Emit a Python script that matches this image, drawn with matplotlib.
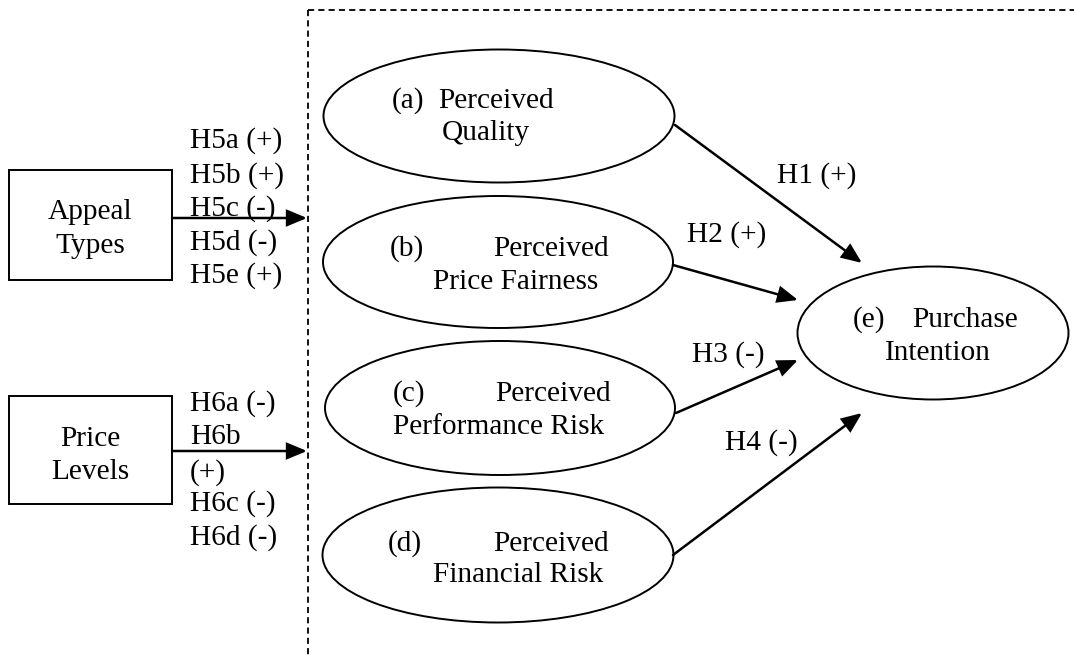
import matplotlib
matplotlib.use("Agg")
import matplotlib.pyplot as plt
from matplotlib.patches import Ellipse, Rectangle, FancyArrowPatch

# ---- content ----
box_labels = ["Appeal\nTypes", "Price\nLevels"]
h5_labels = ["H5a (+)", "H5b (+)", "H5c (-)", "H5d (-)", "H5e (+)"]
h6_labels = ["H6a (-)", "H6b", "(+)", "H6c (-)", "H6d (-)"]
construct_tags = ["(a)", "(b)", "(c)", "(d)", "(e)"]
construct_line1 = ["Perceived", "Perceived", "Perceived", "Perceived", "Purchase"]
construct_line2 = ["Quality", "Price Fairness", "Performance Risk", "Financial Risk", "Intention"]
path_labels = ["H1 (+)", "H2 (+)", "H3 (-)", "H4 (-)"]

plt.rcParams['font.family'] = ['Liberation Serif', 'DejaVu Serif']
FS = 21.2

W, H = 1074, 657
fig = plt.figure(figsize=(W / 100, H / 100), dpi=100)
ax = fig.add_axes([0, 0, 1, 1])
ax.set_xlim(0, W)
ax.set_ylim(H, 0)
ax.axis('off')

LW_ARROW = 1.8
LW_SHAPE = 1.4
# dashed frame
ax.plot([308, 308], [10, H], color='black', lw=1.3, linestyle=(0, (3.4, 2.3)))
ax.plot([308, W], [10, 10], color='black', lw=1.3, linestyle=(0, (3.4, 2.3)))

def arrow(x0, y0, x1, y1):
    a = FancyArrowPatch((x0, y0), (x1, y1),
                        arrowstyle='-|>,head_length=1.2,head_width=0.5',
                        mutation_scale=10, lw=LW_ARROW, color='black',
                        shrinkA=0, shrinkB=0, joinstyle='miter')
    ax.add_patch(a)

# boxes
boxes = [(9, 170, 163, 110), (9, 396, 163, 108)]
box_base = [(219, 253), (446, 479)]
for (bx, by, bw, bh), lab, bl in zip(boxes, box_labels, box_base):
    ax.add_patch(Rectangle((bx, by), bw, bh, fill=False, lw=LW_SHAPE, ec='black'))
    for line, yb in zip(lab.split("\n"), bl):
        ax.text(bx + bw / 2, yb, line, ha='center', va='baseline', fontsize=FS)

arrow(172, 218, 307, 218)
arrow(172, 451, 307, 451)

h5_base = [148, 183, 216, 250, 283]
for lab, yb in zip(h5_labels, h5_base):
    ax.text(190, yb, lab, ha='left', va='baseline', fontsize=FS)
h6_base = [411, 444, 480, 511, 545]
for lab, yb in zip(h6_labels, h6_base):
    ax.text(190, yb, lab, ha='left', va='baseline', fontsize=FS)

# ellipses
ells = [(499, 116, 351, 133), (498, 262, 350, 132), (500, 408, 350, 134),
        (498, 555, 351, 135), (933, 333, 271, 133)]
tag_x = [392, 390, 393, 388, 853]
l1_x = [438, 493, 495, 493, 912]
l2_x = [442, 433, 393, 433, 885]
l1_base = [108, 256, 401, 551, 327]
l2_base = [140, 289, 434, 582, 360]
for i, (cx, cy, ew, eh) in enumerate(ells):
    ax.add_patch(Ellipse((cx, cy), ew, eh, fill=False, lw=LW_SHAPE, ec='black'))
    ax.text(tag_x[i], l1_base[i], construct_tags[i], ha='left', va='baseline', fontsize=FS)
    ax.text(l1_x[i], l1_base[i], construct_line1[i], ha='left', va='baseline', fontsize=FS)
    ax.text(l2_x[i], l2_base[i], construct_line2[i], ha='left', va='baseline', fontsize=FS)

# paths to purchase intention
paths = [((675, 125), (862, 263)), ((673, 265), (798, 300)),
         ((676, 413), (798, 360)), ((673, 555), (862, 413))]
for (p0, p1) in paths:
    arrow(p0[0], p0[1], p1[0], p1[1])

lab_pos = [(777, 183), (687, 242), (692, 362), (725, 450)]
for lab, (lx, ly) in zip(path_labels, lab_pos):
    ax.text(lx, ly, lab, ha='left', va='baseline', fontsize=FS)

fig.savefig("out.png", dpi=100)
